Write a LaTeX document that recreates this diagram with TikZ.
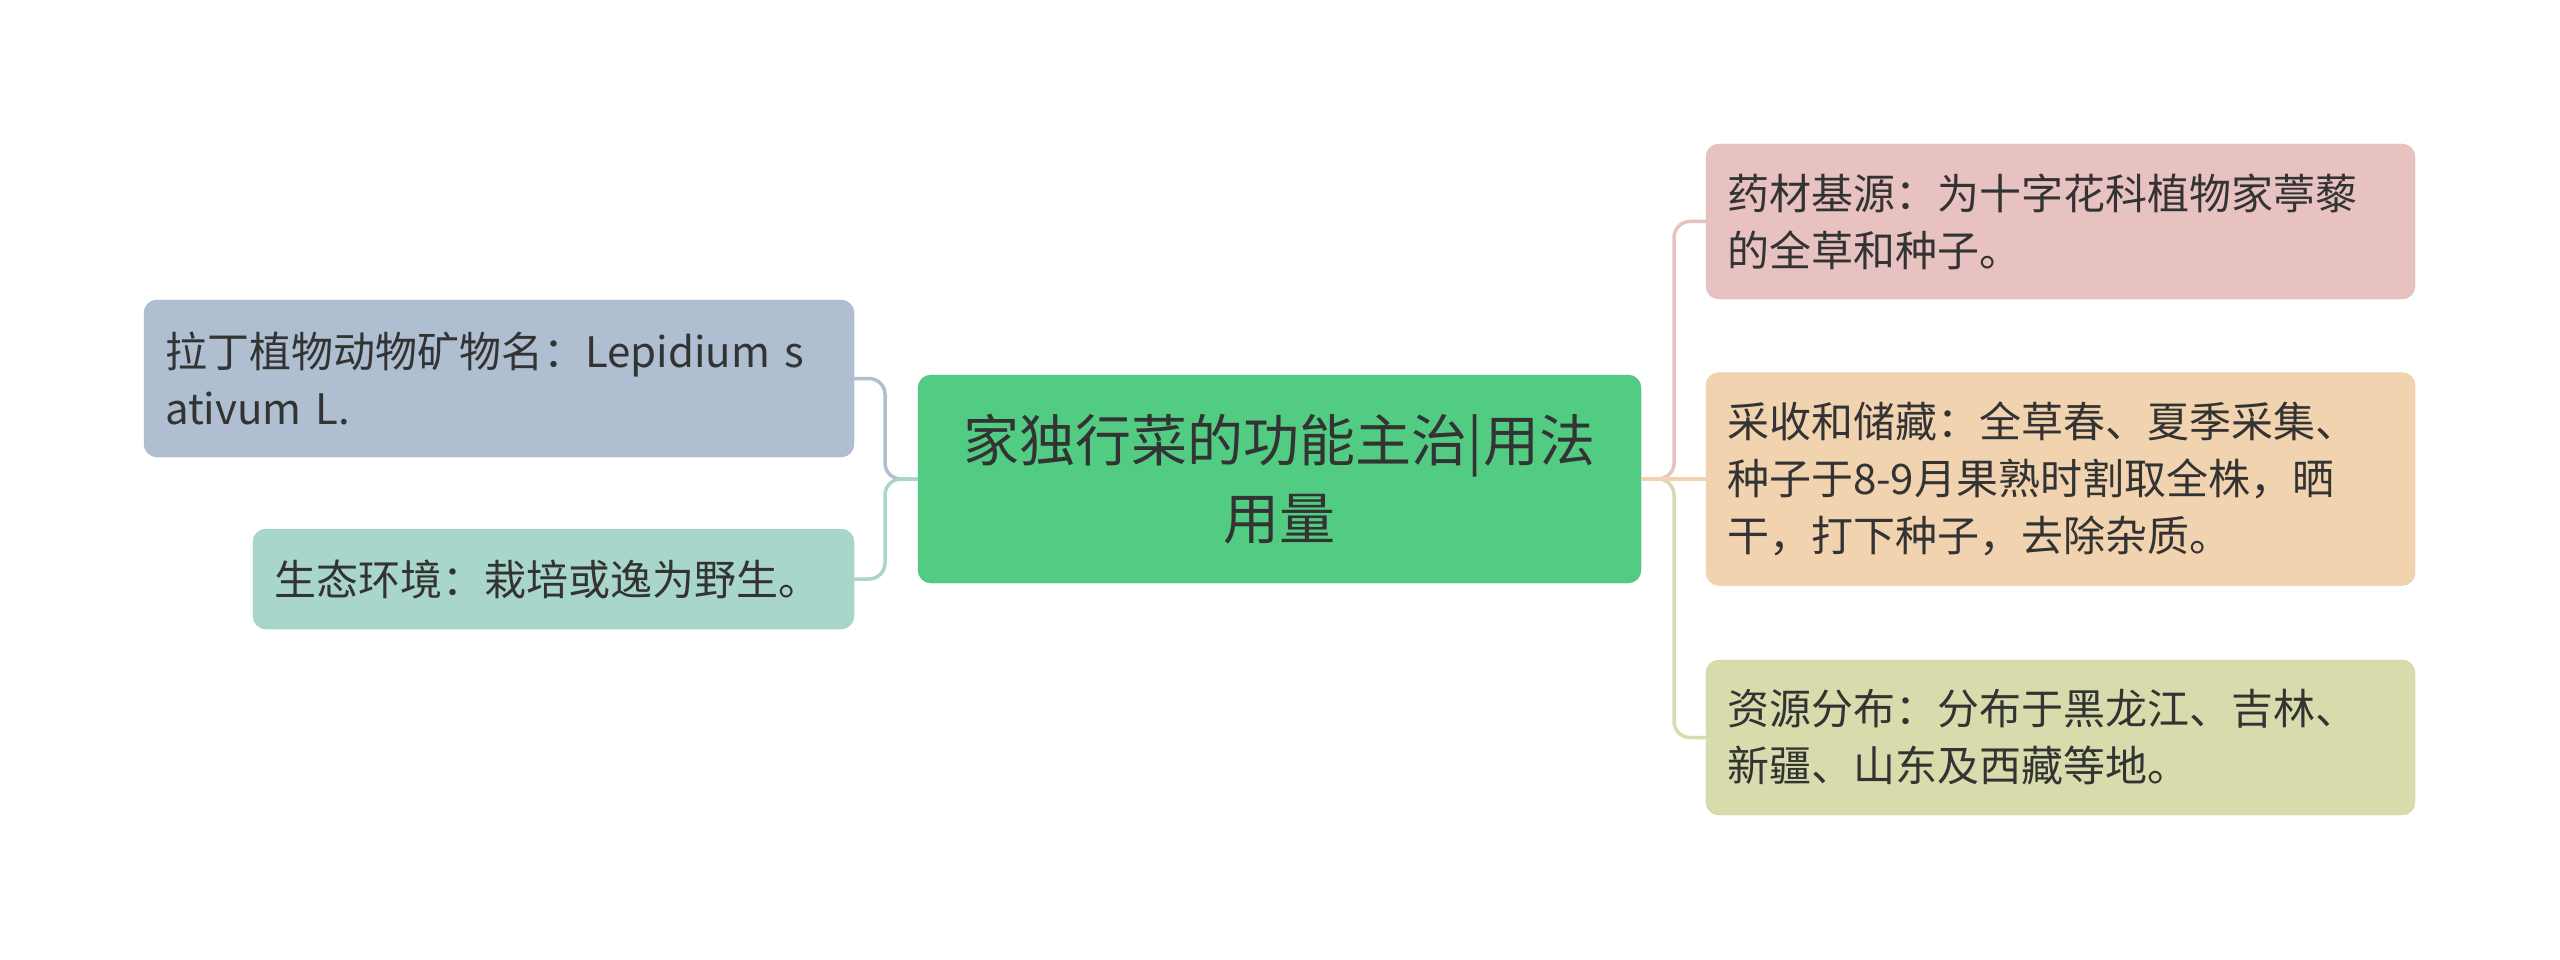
\documentclass[tikz,border=0pt]{standalone}
\usepackage{fontspec}
\setmainfont{Noto Sans CJK SC}
\definecolor{txt}{HTML}{333333}
\definecolor{cfill}{HTML}{52CC83}
\definecolor{lafill}{HTML}{AFBFD1}
\definecolor{lbfill}{HTML}{A8D6CA}
\definecolor{rafill}{HTML}{E8C1C1}
\definecolor{rbfill}{HTML}{F2D3B0}
\definecolor{rcfill}{HTML}{D8DCAC}
\tikzset{
  box/.style={rounded corners=13pt, inner xsep=21pt, inner ysep=0pt, text=txt, align=left, anchor=center,
    font=\fontsize{42}{57}\selectfont},
  conn/.style={line width=3.5pt, rounded corners=16pt},
}
\begin{document}
\begin{tikzpicture}[x=1pt,y=-1pt]
\useasboundingbox[fill=white] (0,0) rectangle (2560,960);
% center
\node[box, fill=cfill, draw=cfill!90!black, align=center, text width=681pt, minimum height=208pt,
  font=\fontsize{56}{78}\selectfont] (c) at (1279.5,479) {家独行菜的功能主治|用法\\用量};
% left
\node[box, fill=lafill, draw=lafill!95!black, text width=668pt, minimum height=157pt] (l1) at (499,378.5)
  {拉丁植物动物矿物名：Lepidium s\\ativum L.};
\node[box, fill=lbfill, draw=lbfill!95!black, text width=559pt, minimum height=100pt] (l2) at (553.5,579)
  {生态环境：栽培或逸为野生。};
% right
\node[box, fill=rafill, draw=rafill!95!black, text width=667pt, minimum height=155pt] (r1) at (2060.5,221.5)
  {药材基源：为十字花科植物家葶藜\\的全草和种子。};
\node[box, fill=rbfill, draw=rbfill!95!black, text width=667pt, minimum height=213pt] (r2) at (2060.5,479)
  {采收和储藏：全草春、夏季采集、\\种子于8-9月果熟时割取全株，晒\\干，打下种子，去除杂质。};
\node[box, fill=rcfill, draw=rcfill!95!black, text width=667pt, minimum height=155pt] (r3) at (2060.5,737.5)
  {资源分布：分布于黑龙江、吉林、\\新疆、山东及西藏等地。};
% junctions
\coordinate (jl) at (885,479);
\coordinate (jr) at (1674,479);
% connectors
\draw[conn, draw=lafill] (c.west) -- (jl) |- (l1.east);
\draw[conn, draw=lbfill] (c.west) -- (jl) |- (l2.east);
\draw[conn, draw=rafill] (c.east) -- (jr) |- (r1.west);
\draw[conn, draw=rcfill] (c.east) -- (jr) |- (r3.west);
\draw[conn, draw=rbfill] (c.east) -- (r2.west);
\end{tikzpicture}
\end{document}
